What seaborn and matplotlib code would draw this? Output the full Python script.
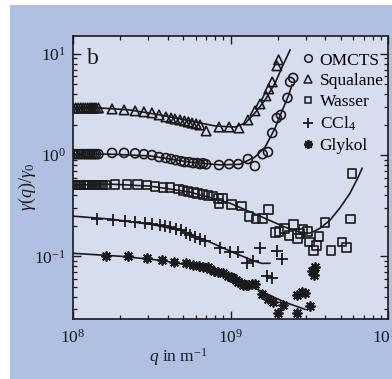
import numpy as np
import pandas as pd
import matplotlib
matplotlib.use("Agg")
import matplotlib.pyplot as plt
from matplotlib.lines import Line2D
from matplotlib.patches import Rectangle
import seaborn as sns

# ---------------- data ----------------
dense_q = [1.00e8, 1.04e8, 1.08e8, 1.12e8, 1.16e8, 1.20e8, 1.24e8, 1.28e8, 1.32e8, 1.36e8, 1.40e8, 1.45e8]

squalane_q = dense_q + [1.77e8, 2.11e8, 2.48e8, 2.82e8, 3.17e8, 3.52e8, 3.89e8, 4.19e8, 4.44e8, 4.78e8,
                        5.1e8, 5.4e8, 5.7e8, 6.05e8, 6.4e8, 7.0e8, 8.45e8, 9.8e8, 1.13e9, 1.29e9,
                        1.43e9, 1.54e9, 1.68e9, 1.75e9, 1.84e9, 1.97e9, 2.02e9]
squalane_y = [2.92] * 12 + [2.85, 2.79, 2.73, 2.67, 2.61, 2.49, 2.38, 2.32, 2.27, 2.22,
                            2.17, 2.12, 2.07, 2.03, 1.98, 1.73, 1.89, 1.89, 1.85, 2.22,
                            2.73, 3.20, 3.84, 4.50, 5.28, 7.61, 8.72]
squalane_fit_q = [1e8, 1.48e8, 2.3e8, 3.57e8, 5.53e8, 7.97e8, 1.07e9, 1.24e9, 1.43e9, 1.66e9, 1.92e9, 2.16e9, 2.39e9]
squalane_fit_y = [2.92, 2.92, 2.79, 2.49, 2.17, 1.94, 1.89, 2.07, 2.61, 3.5, 5.16, 7.8, 10.9]

omcts_q = dense_q + [1.77e8, 2.11e8, 2.48e8, 2.82e8, 3.17e8, 3.52e8, 3.89e8, 4.19e8, 4.5e8, 4.85e8,
                     5.1e8, 5.45e8, 5.8e8, 6.15e8, 6.4e8, 6.7e8, 7.0e8, 8.45e8, 9.8e8, 1.12e9,
                     1.29e9, 1.43e9, 1.6e9, 1.73e9, 1.84e9, 1.97e9, 2.09e9, 2.3e9, 2.39e9, 2.5e9]
omcts_y = [1.02] * 12 + [1.05, 1.05, 1.04, 1.02, 1.0, 0.955, 0.934, 0.913, 0.89, 0.87,
                         0.852, 0.85, 0.833, 0.833, 0.814, 0.83, 0.81, 0.796, 0.814, 0.814,
                         0.913, 0.778, 1.02, 1.07, 1.65, 2.32, 2.49, 3.67, 5.28, 5.78]
omcts_fit_q = [1e8, 1.72e8, 3.1e8, 5.53e8, 8.58e8, 1.15e9, 1.43e9, 1.66e9, 1.92e9, 2.11e9, 2.33e9, 2.46e9]
omcts_fit_y = [1.02, 1.02, 0.98, 0.85, 0.80, 0.81, 0.955, 1.2, 1.85, 2.66, 3.84, 4.93]

wasser_q = dense_q + [1.5e8, 1.55e8, 1.6e8, 1.85e8, 2.2e8, 2.58e8, 2.95e8, 3.32e8, 3.73e8, 4.13e8,
                      4.65e8, 5.0e8, 5.37e8, 5.8e8, 6.2e8, 6.7e8, 7.2e8, 7.75e8, 8.35e8, 8.85e8,
                      8.45e8, 1.02e9, 1.17e9, 1.31e9, 1.45e9, 1.6e9, 1.75e9, 1.92e9, 2.03e9, 2.19e9,
                      2.35e9, 2.5e9, 2.65e9, 2.76e9, 2.89e9, 3.1e9, 3.17e9, 3.35e9, 3.5e9, 3.65e9,
                      3.98e9, 4.35e9, 5.1e9, 5.45e9, 5.9e9, 5.8e9]
wasser_y = [0.505] * 15 + [0.516, 0.516, 0.516, 0.505, 0.493, 0.482, 0.482,
                           0.461, 0.45, 0.44, 0.43, 0.42, 0.411, 0.40, 0.393, 0.375, 0.375,
                           0.335, 0.327, 0.313, 0.249, 0.233, 0.238, 0.292, 0.173, 0.177, 0.189,
                           0.161, 0.207, 0.151, 0.169, 0.185, 0.177, 0.138, 0.115, 0.128, 0.158,
                           0.217, 0.115, 0.138, 0.123, 0.663, 0.233]
wasser_fit_q = [1e8, 1.72e8, 3.1e8, 5.53e8, 9.9e8, 1.54e9, 2.22e9, 2.76e9, 3.2e9, 3.7e9, 4.28e9, 4.95e9, 5.74e9, 6.45e9, 6.85e9]
wasser_fit_y = [0.505, 0.516, 0.493, 0.43, 0.335, 0.249, 0.194, 0.173, 0.169, 0.189, 0.227, 0.30, 0.42, 0.60, 0.74]

ccl4_q = [1.42e8, 1.8e8, 2.14e8, 2.48e8, 2.87e8, 3.17e8, 3.57e8, 3.84e8, 4.13e8, 4.5e8,
          4.85e8, 5.21e8, 5.53e8, 5.95e8, 6.4e8, 6.89e8, 8.58e8, 9.9e8, 1.11e9, 1.27e9,
          1.39e9, 1.54e9, 1.7e9, 1.83e9, 1.97e9, 2.12e9]
ccl4_y = [0.233, 0.227, 0.222, 0.217, 0.212, 0.207, 0.203, 0.198, 0.194, 0.185,
          0.181, 0.169, 0.161, 0.154, 0.147, 0.141, 0.120, 0.110, 0.110, 0.0852,
          0.0892, 0.120, 0.0634, 0.0606, 0.112, 0.0934]
ccl4_fit_q = [1e8, 1.72e8, 3.1e8, 4.78e8, 7.41e8, 1.07e9, 1.43e9, 1.58e9, 1.78e9]
ccl4_fit_y = [0.249, 0.233, 0.207, 0.181, 0.138, 0.107, 0.0892, 0.085, 0.0852]

glykol_q = [1.62e8, 2.23e8, 2.95e8, 3.67e8, 4.4e8, 5.21e8, 5.8e8, 6.3e8, 6.7e8, 7.2e8,
            7.4e8, 7.9e8, 8.35e8, 8.95e8, 9.6e8, 1.0e9, 1.04e9, 1.08e9, 1.11e9, 1.16e9,
            1.2e9, 1.25e9, 1.29e9, 1.36e9, 1.43e9, 1.58e9, 1.73e9, 1.86e9, 2.0e9, 2.15e9,
            2.65e9, 2.65e9, 2.85e9, 2.97e9, 3.2e9, 3.3e9, 3.44e9, 3.37e9]
glykol_y = [0.100, 0.100, 0.0956, 0.0913, 0.0872, 0.0852, 0.0814, 0.0796, 0.0778, 0.0778,
            0.0743, 0.0720, 0.0694, 0.0678, 0.0633, 0.0620, 0.0605, 0.0580, 0.0552, 0.0540,
            0.0516, 0.0520, 0.0516, 0.0530, 0.0528, 0.0421, 0.0376, 0.0351, 0.0273, 0.0328,
            0.0273, 0.0412, 0.0441, 0.0431, 0.0321, 0.0710, 0.0778, 0.0650]
glykol_fit_q = [1e8, 2.0e8, 3.57e8, 5.53e8, 8.58e8, 1.24e9, 1.66e9, 2.22e9, 2.97e9]
glykol_fit_y = [0.107, 0.100, 0.0913, 0.0814, 0.0694, 0.054, 0.0431, 0.0351, 0.0299]

labels = ["OMCTS", "Squalane", "Wasser", "CCl$_4$", "Glykol"]
x_ticks = [1e8, 1e9, 1e10]
y_ticks = [1e-1, 1e0, 1e1]

# ---------------- styling ----------------
OUTER = "#b0c0e2"
INNER = "#d6ddef"
INK = "#1a1a1a"
plt.rcParams["font.family"] = ["Liberation Serif", "DejaVu Serif"]
plt.rcParams["mathtext.fontset"] = "custom"
plt.rcParams["mathtext.rm"] = "Liberation Serif"
plt.rcParams["mathtext.it"] = "Liberation Serif:italic"
plt.rcParams["mathtext.bf"] = "Liberation Serif:bold"

fig = plt.figure(figsize=(3.92, 3.79), dpi=100, facecolor="white")
fig.patches.append(Rectangle((10 / 392, 0), 1, 1 - 5 / 379, transform=fig.transFigure,
                             facecolor=OUTER, edgecolor="none", zorder=-10))
ax = fig.add_axes([73 / 392, 60 / 379, 315 / 392, 283 / 379])
ax.set_facecolor(INNER)

series = [
    (omcts_q, omcts_y, omcts_fit_q, omcts_fit_y, "o", True, 42),
    (squalane_q, squalane_y, squalane_fit_q, squalane_fit_y, "^", True, 46),
    (wasser_q, wasser_y, wasser_fit_q, wasser_fit_y, "s", True, 40),
    (ccl4_q, ccl4_y, ccl4_fit_q, ccl4_fit_y, "+", False, 75),
    (glykol_q, glykol_y, glykol_fit_q, glykol_fit_y, (8, 2, 0), False, 42),
]

for (q, y, fq, fy, m, hollow, s), lab in zip(series, labels):
    df = pd.DataFrame({"q": q, "y": y})
    fit = pd.DataFrame({"q": fq, "y": fy})
    sns.lineplot(data=fit, x="q", y="y", ax=ax, color=INK, lw=1.2,
                 estimator=None, sort=True, zorder=2)
    if hollow:
        sns.scatterplot(data=df, x="q", y="y", ax=ax, marker=m, s=s,
                        facecolor="none", edgecolor=INK, linewidth=1.2, zorder=3)
    else:
        sns.scatterplot(data=df, x="q", y="y", ax=ax, marker=m, s=s,
                        color=INK, linewidth=1.3, zorder=3)

ax.set_xscale("log")
ax.set_yscale("log")
ax.set_xlim(1e8, 1e10)
ax.set_ylim(0.024, 15)
ax.set_xticks(x_ticks)
ax.set_yticks(y_ticks)
ax.tick_params(which="both", direction="in", top=True, right=True, labelsize=12.5,
               color=INK, labelcolor=INK)
ax.tick_params(which="major", length=6, width=1)
ax.tick_params(which="minor", length=3, width=0.9)
ax.tick_params(axis="x", pad=7)
ax.tick_params(axis="y", pad=5)
for sp in ax.spines.values():
    sp.set_linewidth(1.2)
    sp.set_color(INK)

ax.set_xlabel("")
ax.set_ylabel("")
fig.text(178 / 392, 1 - 357 / 379, "$q$ in m$^{-1}$", ha="center", va="center",
         fontsize=12.5, color=INK)
fig.text(27 / 392, 1 - 187 / 379, r"$\gamma(q)/\gamma_0$", ha="center", va="center",
         rotation=90, fontsize=13, color=INK)
ax.text(0.045, 0.92, "b", transform=ax.transAxes, fontsize=17, ha="left", va="center",
        color=INK)

handles = [
    Line2D([], [], ls="none", marker="o", mfc="none", mec=INK, ms=5.5, mew=1.1),
    Line2D([], [], ls="none", marker="^", mfc="none", mec=INK, ms=5.5, mew=1.1),
    Line2D([], [], ls="none", marker="s", mfc="none", mec=INK, ms=5, mew=1.1),
    Line2D([], [], ls="none", marker="+", color=INK, ms=7, mew=1.3),
    Line2D([], [], ls="none", marker=(8, 2, 0), color=INK, ms=6.5, mew=1.3),
]
ax.legend(handles, labels, loc="upper right", bbox_to_anchor=(1.025, 0.985), frameon=False,
          fontsize=12.5, handlelength=0.6, handletextpad=0.35, labelspacing=0.27,
          borderaxespad=0.3)

fig.savefig("out.png", dpi=100, facecolor=fig.get_facecolor())
